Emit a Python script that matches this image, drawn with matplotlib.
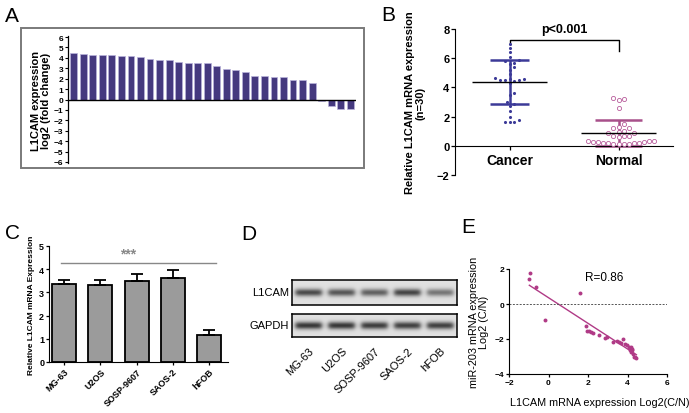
import matplotlib.pyplot as plt
import numpy as np
from matplotlib.patches import Rectangle

plt.rcParams['font.family'] = ['Liberation Sans', 'DejaVu Sans']
plt.rcParams['font.weight'] = 'bold'

# ---- data ----
# A: log2 fold change per patient
fold_change = [4.42, 4.33, 4.3, 4.26, 4.23, 4.2, 4.17, 4.1, 3.91, 3.75,
               3.75, 3.59, 3.53, 3.46, 3.46, 3.24, 2.95, 2.82, 2.6, 2.28,
               2.21, 2.15, 2.12, 1.92, 1.92, 1.57, -0.15, -0.6, -0.9, -0.95]

# B: relative expression, cancer vs normal
cancer_vals = [7.0, 6.7, 6.4, 6.1, 5.85, 5.8, 5.7, 5.6, 5.4, 5.2,
               4.9, 4.65, 4.6, 4.55, 4.5, 4.5, 4.5, 4.45, 4.3, 3.6,
               3.5, 3.0, 2.85, 2.75, 2.35, 2.0, 1.75, 1.6, 1.6, 1.6]
normal_vals = [3.3, 3.2, 3.15, 2.6, 1.5, 1.3, 1.25, 1.2, 1.0, 0.95,
               0.9, 0.85, 0.7, 0.65, 0.65, 0.6, 0.35, 0.3, 0.3, 0.28,
               0.25, 0.25, 0.22, 0.2, 0.2, 0.18, 0.15, 0.15, 0.12, 0.1]
group_names = ['Cancer', 'Normal']
group_means = [4.35, 0.9]
group_sd = [1.5, 0.9]

# C: cell lines
cell_lines = ['MG-63', 'U2OS', 'SOSP-9607', 'SAOS-2', 'hFOB']
cell_expr = [3.35, 3.33, 3.48, 3.6, 1.16]
cell_err = [0.2, 0.2, 0.3, 0.37, 0.22]

# D: western blot band intensities (0-1)
l1cam_bands = [0.85, 0.78, 0.72, 0.88, 0.6]
gapdh_bands = [0.95, 0.95, 0.92, 0.9, 0.9]

# E: correlation
l1cam_log = [-0.95, -0.97, -0.63, -0.2, 1.6, 1.92, 1.95, 2.05, 2.15, 2.25,
             2.55, 2.85, 2.95, 3.25, 3.45, 3.55, 3.65, 3.75, 3.85, 3.95,
             4.1, 4.2, 4.25, 4.25, 4.2, 4.15, 4.3, 4.35, 4.4, 4.45]
mir203_log = [1.8, 1.45, 1.0, -0.9, 0.65, -1.25, -1.55, -1.55, -1.6, -1.65,
              -1.75, -1.92, -1.9, -2.15, -2.1, -2.15, -2.2, -2.0, -2.3, -2.35,
              -2.45, -2.45, -2.55, -2.65, -2.75, -2.6, -2.85, -3.0, -3.05, -3.1]

W, H = 689, 414
fig = plt.figure(figsize=(W / 100, H / 100), dpi=100)


def box(x0, y0, x1, y1):
    # pixel box (from top-left) -> axes rect
    return [x0 / W, 1 - y1 / H, (x1 - x0) / W, (y1 - y0) / H]


def swarm(values, center, px_per_x, px_per_y, size=4.3):
    placed = []
    xs = np.zeros(len(values))
    for i in np.argsort(values):
        y = values[i] * px_per_y
        k = 0
        while True:
            cands = [0] if k == 0 else [k * size * 0.55, -k * size * 0.55]
            ok = None
            for c in cands:
                if all((c - px) ** 2 + (y - py) ** 2 >= size ** 2 for px, py in placed):
                    ok = c
                    break
            if ok is not None:
                placed.append((ok, y))
                xs[i] = center + ok / px_per_x
                break
            k += 1
    return xs


# ---- panel labels ----
for lab, x, y in [('A', 5, 22), ('B', 381, 21), ('C', 5, 239), ('D', 241, 240), ('E', 461, 233)]:
    fig.text(x / W, 1 - y / H, lab, fontsize=15, fontweight='normal', va='baseline')

# ---- A ----
fig.patches.append(Rectangle((21 / W, 1 - 169 / H), 343 / W, 140 / H, transform=fig.transFigure,
                             fill=False, edgecolor='#7a7a7a', lw=1.4))
axA = fig.add_axes(box(68, 37, 356, 164))
xa = np.arange(len(fold_change))
axA.bar(xa, fold_change, width=0.72, color='#45397f', edgecolor='#b9b3dc', lw=0.5)
axA.axhline(0, color='black', lw=1)
axA.set_xlim(-0.6, len(fold_change) - 0.4)
axA.set_ylim(-6.1, 6.1)
axA.set_yticks(range(-6, 7))
axA.tick_params(axis='y', labelsize=6, length=2.5, width=0.8, pad=1)
axA.set_xticks([])
for s in ['top', 'right', 'bottom']:
    axA.spines[s].set_visible(False)
axA.spines['left'].set_linewidth(0.9)
axA.set_ylabel('L1CAM expression\nlog2 (fold change)', fontsize=8, fontweight='bold', labelpad=2,
               linespacing=1.0)

# ---- B ----
axB = fig.add_axes(box(455, 30, 673, 176))
axB.set_xlim(-0.5, 1.5)
axB.set_ylim(-2, 8)
ppx = 218 / 2.0
ppy = 146 / 10.0
cx = swarm(cancer_vals, 0, ppx, ppy)
nx = swarm(normal_vals, 1, ppx, ppy, size=4.6)
axB.scatter(cx, cancer_vals, s=5, color='#3c3a98', zorder=3, lw=0)
axB.scatter(nx, normal_vals, s=9, facecolor='white', edgecolor='#b85d9c', lw=0.6, zorder=3)
# mean lines and SD bars
cols = ['#3c3a98', '#a8508a']
capw = [0.18, 0.22]
for i in range(2):
    axB.hlines(group_means[i], i - 0.345, i + 0.345, color='black', lw=1, zorder=4)
    lo = group_means[i] - group_sd[i]
    hi = group_means[i] + group_sd[i]
    axB.vlines(i, lo, hi, color=cols[i], lw=1.8, zorder=2)
    axB.hlines([lo, hi], i - capw[i], i + capw[i], color=cols[i], lw=1.8, zorder=2)
# significance bracket
axB.plot([0, 0, 1, 1], [7.0, 7.28, 7.28, 6.5], color='black', lw=1)
axB.text(0.5, 7.6, 'p<0.001', ha='center', va='bottom', fontsize=9, fontweight='bold')
axB.set_xticks([0, 1])
axB.set_xticklabels(group_names, fontsize=9, fontweight='bold')
axB.set_yticks(range(-2, 9, 2))
axB.tick_params(axis='y', labelsize=8, length=3, width=0.9, pad=1)
axB.tick_params(axis='x', length=3, width=0.9, pad=2)
axB.spines['bottom'].set_position(('data', 0))
for s in ['top', 'right']:
    axB.spines[s].set_visible(False)
axB.set_ylabel('Relative L1CAM mRNA expression\n(n=30)', fontsize=8, fontweight='bold', labelpad=8,
               linespacing=1.1)

# ---- C ----
axC = fig.add_axes(box(49, 247, 228, 363))
xc = np.arange(len(cell_lines))
axC.bar(xc, cell_expr, width=0.66, color='#9b9b9b', edgecolor='black', lw=1.3)
axC.errorbar(xc, cell_expr, yerr=[np.zeros(len(cell_err)), cell_err], fmt='none', ecolor='black',
             elinewidth=1.3, capsize=4, capthick=1.3)
axC.plot([-0.1, 4.2], [4.28, 4.28], color='#888888', lw=1)
axC.text(1.75, 4.36, '***', ha='center', va='bottom', fontsize=10, color='#888888')
axC.set_xlim(-0.42, 4.52)
axC.set_ylim(0, 5)
axC.set_xticks(xc)
axC.set_xticklabels(cell_lines, rotation=45, ha='right', rotation_mode='anchor', fontsize=6.5,
                    fontweight='bold')
axC.tick_params(axis='both', labelsize=6.5, length=2.5, width=0.9, pad=1)
for s in ['top', 'right']:
    axC.spines[s].set_visible(False)
axC.set_ylabel('Relative L1CAM mRNA Expression', fontsize=6, fontweight='bold', labelpad=3)

# ---- D (western blot) ----


def blot(ax, bands, sigma_y):
    nx_, ny_ = 330, 50
    xg = np.linspace(0, len(bands), nx_)
    yg = np.linspace(-1, 1, ny_)
    img = np.zeros((ny_, nx_))
    for i, b in enumerate(bands):
        c = i + 0.5
        prof_x = 1 / (1 + np.exp((np.abs(xg - c) - 0.4) / 0.04))
        prof_y = np.exp(-(yg / sigma_y) ** 2)
        img += b * np.outer(prof_y, prof_x)
    ax.imshow(0.88 - 0.7 * img, cmap='gray', vmin=0, vmax=1, aspect='auto',
              extent=[0, len(bands), -1, 1], interpolation='bilinear')
    ax.set_xticks([])
    ax.set_yticks([])
    for s in ax.spines.values():
        s.set_linewidth(1.1)


axD1 = fig.add_axes(box(292, 281, 457, 306))
blot(axD1, l1cam_bands, 0.3)
axD1.set_ylabel('L1CAM', rotation=0, ha='right', va='center', fontsize=8, fontweight='normal', labelpad=2)
axD2 = fig.add_axes(box(292, 315, 457, 338))
blot(axD2, gapdh_bands, 0.33)
axD2.set_ylabel('GAPDH', rotation=0, ha='right', va='center', fontsize=8, fontweight='normal', labelpad=2)
axD2.set_xticks(np.arange(len(cell_lines)) + 0.5)
axD2.set_xticklabels(cell_lines, rotation=45, ha='right', rotation_mode='anchor', fontsize=8,
                     fontweight='normal')
axD2.tick_params(axis='x', length=0, pad=6)

# ---- E ----
axE = fig.add_axes(box(509, 270, 667, 375))
axE.scatter(l1cam_log, mir203_log, s=8, color='#b03a86', lw=0, zorder=3)
k, b0 = np.polyfit(l1cam_log, mir203_log, 1)
xl = np.array([min(l1cam_log), max(l1cam_log)])
axE.plot(xl, k * xl + b0, color='#b03a86', lw=1)
axE.axhline(0, color='#555555', lw=0.7, ls=(0, (2, 1.5)))
axE.text(2.8, 1.55, 'R=0.86', ha='center', va='center', fontsize=8.5, fontweight='normal')
axE.set_xlim(-2, 6)
axE.set_ylim(-4, 2)
axE.set_xticks(range(-2, 7, 2))
axE.set_yticks(range(-4, 3, 2))
axE.tick_params(axis='both', labelsize=6, length=2.5, width=0.9, pad=1)
for s in ['top', 'right']:
    axE.spines[s].set_visible(False)
axE.set_ylabel('miR-203 mRNA expression\nLog2 (C/N)', fontsize=7.8, fontweight='normal', labelpad=4,
               linespacing=1.0)
fig.text(600 / W, 1 - 403 / H, 'L1CAM mRNA expression Log2(C/N)', ha='center', va='center',
         fontsize=7.8, fontweight='normal')

fig.savefig('out.png', dpi=100)
